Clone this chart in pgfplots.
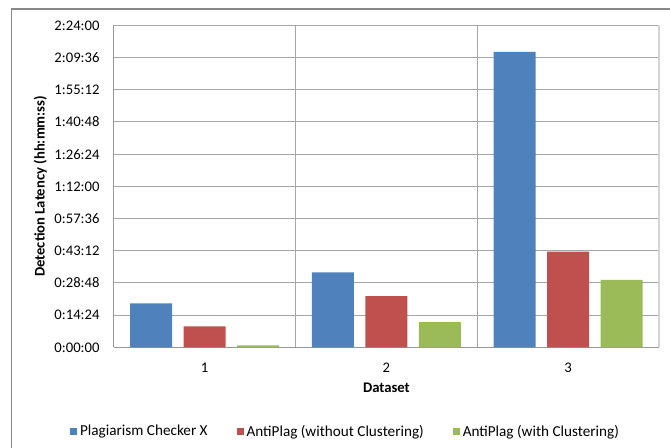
\documentclass[border=0pt]{standalone}
\usepackage{pgfplots}
\pgfplotsset{compat=1.18}
\usepackage{fontspec}
\setmainfont{Carlito}
\definecolor{cblue}{HTML}{4F81BD}
\definecolor{cred}{HTML}{C0504D}
\definecolor{cgreen}{HTML}{9BBB59}
\definecolor{gridc}{HTML}{A6A6A6}
\definecolor{axisc}{HTML}{989898}
\definecolor{borderc}{HTML}{878787}
\definecolor{lightc}{HTML}{D4D4D4}
\pgfplotsset{legsq/.style={legend image code/.code={\fill[##1] (0pt,-2.6pt) rectangle (5.2pt,2.6pt);}}}
\begin{document}
\begin{tikzpicture}[font=\fontsize{11pt}{13pt}\selectfont]
\useasboundingbox (0,0) rectangle (502.5pt,336pt);
\draw[borderc, line width=0.9pt] (8.8pt,-5pt) -- (8.8pt,329.25pt) -- (510pt,329.25pt);
\begin{axis}[
  at={(85.3pt,75.5pt)}, anchor=south west,
  scale only axis, width=409pt, height=241.5pt,
  xmin=0.5, xmax=3.5, ymin=0, ymax=8640,
  xtick={1,2,3}, xticklabels={1,2,3},
  minor xtick={1.5,2.5}, xminorgrids=true,
  ytick={0,864,1728,2592,3456,4320,5184,6048,6912,7776,8640},
  yticklabels={0:00:00,0:14:24,0:28:48,0:43:12,0:57:36,1:12:00,1:26:24,1:40:48,1:55:12,2:09:36,2:24:00},
  ymajorgrids=true,
  major tick length=0pt, minor tick length=0pt,
  tick style={draw=none},
  grid style={gridc, line width=0.75pt},
  minor grid style={gridc, line width=0.75pt},
  axis x line*=bottom, axis y line*=left,
  axis line style={axisc, line width=0.75pt},
  /pgf/number format/assume math mode=true,
  yticklabel style={anchor=east, inner sep=0pt, xshift=-10.5pt},
  xticklabel style={anchor=center, inner sep=0pt, yshift=-15pt},
  xlabel={Dataset},
  ylabel={Detection Latency (hh:mm:ss)},
  xlabel style={at={(axis description cs:0.5,-0.1264)}, anchor=center, inner sep=0pt, font=\fontsize{11pt}{13pt}\selectfont\bfseries},
  ylabel style={at={(axis description cs:-0.1348,0.5)}, anchor=center, inner sep=0pt, font=\fontsize{11pt}{13pt}\selectfont\bfseries},
  legend style={at={(0.426,-0.262)}, anchor=center, draw=none, fill=none,
    legend columns=3, inner sep=0pt,
    /tikz/every even column/.append style={column sep=20pt},
    font=\fontsize{11.4pt}{13pt}\selectfont},
  legend cell align=left,
  clip=false,
]
\addplot[ybar, bar width=31.5pt, bar shift=-40.1pt, fill=cblue, draw=none, legsq]
  coordinates {(1,1177) (2,2014) (3,7926)};
\addplot[ybar, bar width=31.5pt, bar shift=0pt, fill=cred, draw=none, legsq]
  coordinates {(1,562) (2,1372) (3,2568)};
\addplot[ybar, bar width=31.5pt, bar shift=40.1pt, fill=cgreen, draw=none, legsq]
  coordinates {(1,54) (2,677) (3,1811)};
\legend{Plagiarism Checker X, AntiPlag (without Clustering), AntiPlag (with Clustering)}
\draw[lightc, line width=1.5pt] (rel axis cs:1,0) -- (rel axis cs:1,1);
\end{axis}
\end{tikzpicture}
\end{document}
